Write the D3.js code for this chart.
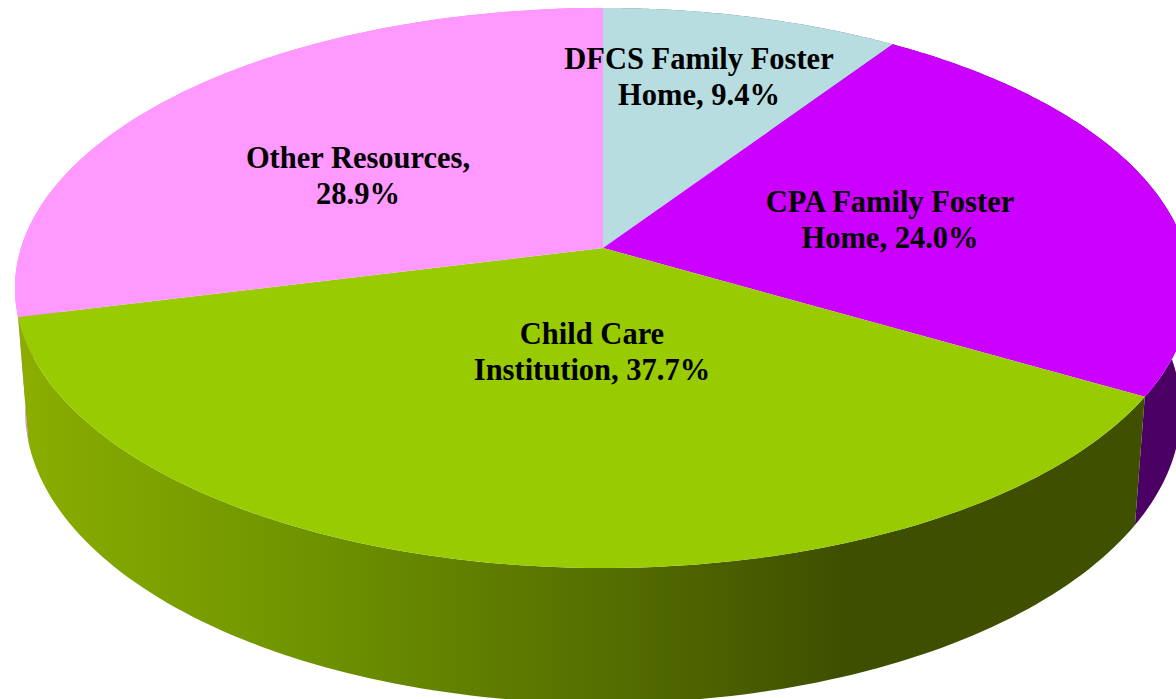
<!DOCTYPE html>
<html>
<head>
<meta charset="utf-8">
<script src="https://cdn.jsdelivr.net/npm/d3@7"></script>
<style>
html,body{margin:0;padding:0;background:#fff;overflow:hidden}
svg{display:block}
text{font-family:"Liberation Serif",serif;font-weight:700;fill:#000}
</style>
</head>
<body>
<script>
const categories = ["DFCS Family Foster Home","CPA Family Foster Home","Child Care Institution","Other Resources"];
const values = [9.4,24.0,37.7,28.9];
const labelFirstLines = ["DFCS Family Foster","CPA Family Foster","Child Care","Other Resources,"];
const labelSecondPrefix = ["Home, ","Home, ","Institution, ",""];
const topColors = ["#b7dde1","#cc00ff","#99cc00","#ff99ff"];
const sideColors = ["#5c6f70","#4b0063","url(#greenSide)","#e07fe0"];
const labelCenters = [[699,0],[890,0],[592,0],[358,0]];
const labelBaselines = [69,212,344,168];
const greenStops = [[28,"#8aad00"],[300,"#6f9400"],[600,"#566f00"],[850,"#3d4f00"],[1140,"#3f5000"]];

const W = 1176, H = 699;
const cam = {cx:603, cy:248, A:582, B:274.3, C:123.7, k:1/7, m:0.0172};

function project(theta, r, z){
  const u = r*Math.sin(theta), v = r*Math.cos(theta);
  const w = 1 + cam.k*v + cam.m*z;
  return [cam.cx + cam.A*u/w, cam.cy + (-cam.B*v + cam.C*z)/w];
}

const svg = d3.select("body").append("svg").attr("width",W).attr("height",H).attr("viewBox",`0 0 ${W} ${H}`);
const grad = svg.append("defs").append("linearGradient").attr("id","greenSide")
  .attr("gradientUnits","userSpaceOnUse").attr("x1",0).attr("x2",W).attr("y1",0).attr("y2",0);
grad.selectAll("stop").data(greenStops).join("stop")
  .attr("offset",d=>d[0]/W).attr("stop-color",d=>d[1]);

const arcs = d3.pie().sort(null).value(d=>d)(values);
const line = d3.line();
const samples = a => d3.range(0,121).map(i=>a.startAngle+(a.endAngle-a.startAngle)*i/120);
const depth = a => Math.cos((a.startAngle+a.endAngle)/2);

const sideD = a => {
  const s = samples(a);
  return line(s.map(t=>project(t,1,0)).concat(s.slice().reverse().map(t=>project(t,1,1))))+"Z";
};
const topD = a => {
  const s = samples(a);
  return line([project(0,0,0)].concat(s.map(t=>project(t,1,0))))+"Z";
};

svg.append("g").selectAll("path").data(arcs.slice().sort((a,b)=>depth(b)-depth(a))).join("path")
  .attr("d",sideD).attr("fill",d=>sideColors[d.index]);
svg.append("g").selectAll("path").data(arcs).join("path")
  .attr("d",topD).attr("fill",(d,i)=>topColors[i]);

const lh = 36;
const g = svg.append("g").attr("font-size",30.5).attr("text-anchor","middle");
values.forEach((v,i)=>{
  const t = g.append("text").attr("aria-label",categories[i]);
  t.append("tspan").attr("x",labelCenters[i][0]).attr("y",labelBaselines[i]).text(labelFirstLines[i]);
  t.append("tspan").attr("x",labelCenters[i][0]).attr("y",labelBaselines[i]+lh).text(labelSecondPrefix[i]+v.toFixed(1)+"%");
});
</script>
</body>
</html>
